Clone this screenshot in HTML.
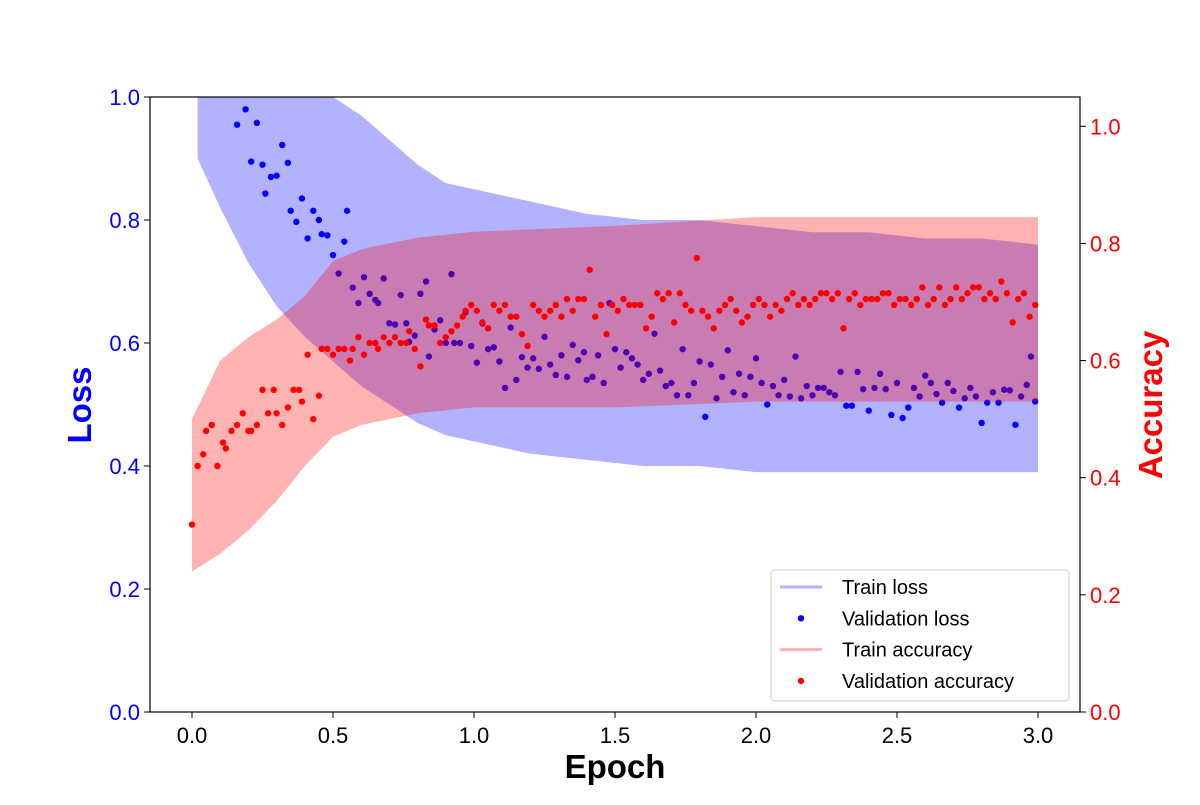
<!DOCTYPE html>
<html><head><meta charset="utf-8"><style>
body{margin:0;background:#fff}
svg text{font-family:"Liberation Sans","DejaVu Sans",sans-serif}
</style></head><body>
<svg id="chart" width="1200" height="800" xmlns="http://www.w3.org/2000/svg"></svg>
<script>
// Train loss envelope
const lossEnvEpoch=[0.02,0.1,0.2,0.3,0.4,0.5,0.6,0.7,0.8,0.9,1.0,1.2,1.4,1.6,1.8,2.0,2.2,2.4,2.6,2.8,3.0];
const lossHi=[1.0,1.0,1.0,1.0,1.0,1.0,0.97,0.93,0.89,0.86,0.85,0.83,0.81,0.80,0.80,0.79,0.78,0.78,0.77,0.77,0.76];
const lossLo=[0.90,0.82,0.73,0.66,0.61,0.57,0.53,0.50,0.47,0.45,0.44,0.42,0.41,0.40,0.40,0.39,0.39,0.39,0.39,0.39,0.39];
// Train accuracy envelope
const accEnvEpoch=[0.0,0.1,0.2,0.3,0.4,0.5,0.6,0.7,0.8,1.0,1.5,2.0,2.5,3.0];
const accHi=[0.50,0.60,0.64,0.67,0.71,0.77,0.79,0.80,0.81,0.82,0.83,0.845,0.845,0.845];
const accLo=[0.24,0.27,0.31,0.36,0.42,0.47,0.49,0.50,0.51,0.52,0.52,0.53,0.53,0.53];
// Validation loss
const valLossEpoch=[0.16,0.19,0.21,0.23,0.25,0.26,0.28,0.30,0.32,0.34,0.35,0.37,0.39,0.41,0.43,0.45,0.46,0.48,0.50,0.52,0.54,0.55,0.57,0.59,0.61,0.63,0.65,0.66,0.68,0.70,0.72,0.74,0.76,0.77,0.79,0.81,0.83,0.84,0.86,0.88,0.90,0.92,0.93,0.95,0.97,0.99,1.01,1.03,1.05,1.07,1.09,1.11,1.13,1.15,1.17,1.19,1.21,1.23,1.25,1.27,1.29,1.31,1.33,1.35,1.37,1.39,1.40,1.42,1.44,1.46,1.48,1.50,1.52,1.54,1.56,1.58,1.60,1.62,1.64,1.66,1.68,1.70,1.72,1.74,1.76,1.78,1.80,1.82,1.84,1.86,1.88,1.90,1.92,1.94,1.96,1.98,2.00,2.02,2.04,2.06,2.08,2.10,2.12,2.14,2.16,2.18,2.20,2.22,2.24,2.26,2.28,2.30,2.32,2.34,2.36,2.38,2.40,2.42,2.44,2.46,2.48,2.50,2.52,2.54,2.56,2.58,2.60,2.62,2.64,2.66,2.68,2.70,2.72,2.74,2.76,2.78,2.80,2.82,2.84,2.86,2.88,2.90,2.92,2.94,2.96,2.975,2.99];
const valLoss=[0.955,0.98,0.895,0.958,0.89,0.843,0.87,0.872,0.922,0.893,0.815,0.797,0.835,0.77,0.815,0.80,0.777,0.775,0.743,0.713,0.765,0.815,0.69,0.665,0.707,0.68,0.67,0.665,0.705,0.632,0.63,0.678,0.632,0.602,0.612,0.68,0.70,0.578,0.622,0.637,0.60,0.712,0.60,0.60,0.65,0.595,0.568,0.632,0.59,0.593,0.57,0.527,0.625,0.54,0.577,0.56,0.575,0.558,0.61,0.565,0.548,0.58,0.545,0.597,0.572,0.585,0.54,0.545,0.58,0.535,0.665,0.59,0.56,0.585,0.575,0.565,0.54,0.55,0.615,0.555,0.53,0.535,0.515,0.59,0.515,0.535,0.57,0.48,0.565,0.51,0.545,0.588,0.52,0.55,0.515,0.545,0.575,0.535,0.50,0.53,0.515,0.54,0.513,0.578,0.51,0.53,0.515,0.527,0.527,0.52,0.515,0.553,0.498,0.498,0.553,0.525,0.49,0.527,0.55,0.525,0.483,0.535,0.478,0.495,0.527,0.513,0.547,0.535,0.517,0.503,0.535,0.522,0.495,0.51,0.527,0.513,0.47,0.503,0.52,0.503,0.524,0.523,0.467,0.513,0.532,0.578,0.505];
// Validation accuracy
const valAccEpoch=[0.0,0.02,0.04,0.05,0.07,0.09,0.11,0.12,0.14,0.16,0.18,0.20,0.21,0.23,0.25,0.27,0.29,0.30,0.32,0.34,0.36,0.38,0.39,0.41,0.43,0.45,0.46,0.48,0.50,0.52,0.54,0.56,0.57,0.59,0.61,0.63,0.65,0.66,0.68,0.70,0.72,0.74,0.76,0.77,0.79,0.81,0.83,0.84,0.86,0.88,0.90,0.92,0.94,0.96,0.97,0.99,1.01,1.03,1.05,1.07,1.09,1.11,1.13,1.15,1.17,1.19,1.21,1.23,1.25,1.27,1.29,1.31,1.33,1.35,1.37,1.39,1.41,1.43,1.45,1.47,1.49,1.51,1.53,1.55,1.57,1.59,1.61,1.63,1.65,1.67,1.69,1.71,1.73,1.75,1.77,1.79,1.81,1.83,1.85,1.87,1.89,1.91,1.93,1.95,1.97,1.99,2.01,2.03,2.05,2.07,2.09,2.11,2.13,2.15,2.17,2.19,2.21,2.23,2.25,2.27,2.29,2.31,2.33,2.35,2.37,2.39,2.41,2.43,2.45,2.47,2.49,2.51,2.53,2.55,2.57,2.59,2.61,2.63,2.65,2.67,2.69,2.71,2.73,2.75,2.77,2.79,2.81,2.83,2.85,2.87,2.89,2.91,2.93,2.95,2.97,2.99];
const valAcc=[0.32,0.42,0.44,0.48,0.49,0.42,0.46,0.45,0.48,0.49,0.51,0.48,0.48,0.49,0.55,0.51,0.55,0.51,0.49,0.52,0.55,0.55,0.53,0.61,0.50,0.54,0.62,0.62,0.61,0.62,0.62,0.60,0.62,0.64,0.61,0.63,0.63,0.62,0.64,0.63,0.64,0.63,0.63,0.65,0.62,0.59,0.67,0.66,0.66,0.63,0.64,0.65,0.66,0.675,0.685,0.695,0.685,0.665,0.655,0.695,0.685,0.695,0.675,0.675,0.645,0.625,0.695,0.685,0.675,0.685,0.695,0.675,0.705,0.685,0.705,0.705,0.755,0.675,0.695,0.645,0.695,0.685,0.705,0.695,0.695,0.695,0.655,0.675,0.715,0.705,0.715,0.665,0.715,0.695,0.685,0.775,0.685,0.675,0.655,0.685,0.695,0.705,0.685,0.665,0.675,0.695,0.705,0.695,0.675,0.695,0.685,0.705,0.715,0.695,0.705,0.695,0.705,0.715,0.715,0.705,0.715,0.655,0.705,0.715,0.695,0.705,0.705,0.705,0.715,0.715,0.695,0.705,0.705,0.695,0.705,0.725,0.695,0.705,0.725,0.695,0.705,0.725,0.705,0.715,0.725,0.725,0.705,0.715,0.705,0.735,0.715,0.665,0.705,0.715,0.675,0.695];
const xTicks=[0.0,0.5,1.0,1.5,2.0,2.5,3.0];
const lossTicks=[0.0,0.2,0.4,0.6,0.8,1.0];
const accTicks=[0.0,0.2,0.4,0.6,0.8,1.0];

const NS="http://www.w3.org/2000/svg";
const svg=document.getElementById('chart');
const L=150,R=1080,T=97,B=712;
const xS=e=>192+e*282;
const yL=v=>B-v*(B-T);
const yA=v=>B-v*(B-T)/1.05;
function mk(tag,attrs,parent){const el=document.createElementNS(NS,tag);for(const k in attrs)el.setAttribute(k,attrs[k]);(parent||svg).appendChild(el);return el;}
function txt(s,attrs){const t=mk('text',attrs);t.textContent=s;return t;}

const defs=mk('defs',{});
const cp=mk('clipPath',{id:'clip'},defs);
mk('rect',{x:L,y:T,width:R-L,height:B-T},cp);
const plot=mk('g',{'clip-path':'url(#clip)'});



function band(ep,hi,lo,ys,color,name){
  let d='';
  ep.forEach((e,i)=>{d+=(i?'L':'M')+xS(e)+','+ys(hi[i]);});
  for(let i=ep.length-1;i>=0;i--)d+='L'+xS(ep[i])+','+ys(lo[i]);
  const p=mk('path',{d:d+'Z',fill:color,'fill-opacity':0.3},plot);
  
  
}
function dots(ep,vals,ys,color,name){
  ep.forEach((e,i)=>{
    const c=mk('circle',{cx:xS(e),cy:ys(vals[i]),r:3.2,fill:color},plot);
    
    
  });
}
band(lossEnvEpoch,lossHi,lossLo,yL,'#0000ff','train-loss-band');
dots(valLossEpoch,valLoss,yL,'#0000ff','validation-loss-point');
band(accEnvEpoch,accHi,accLo,yA,'#ff0000','train-accuracy-band');
dots(valAccEpoch,valAcc,yA,'#ff0000','validation-accuracy-point');

const frame=mk('rect',{x:L,y:T,width:R-L,height:B-T,fill:'none',stroke:'#000','stroke-width':1.2});



xTicks.forEach(v=>{
  mk('line',{x1:xS(v),x2:xS(v),y1:B,y2:B+6,stroke:'#000'});
  const t=txt(v.toFixed(1),{x:xS(v),y:B+31,'font-size':22,'text-anchor':'middle',fill:'#000'});
  
  
});
lossTicks.forEach(v=>{
  mk('line',{x1:L-6,x2:L,y1:yL(v),y2:yL(v),stroke:'#000'});
  const t=txt(v.toFixed(1),{x:L-10,y:yL(v)+8,'font-size':22,'text-anchor':'end',fill:'#0000ff'});
  
  
});
accTicks.forEach(v=>{
  mk('line',{x1:R,x2:R+6,y1:yA(v),y2:yA(v),stroke:'#000'});
  const t=txt(v.toFixed(1),{x:R+10,y:yA(v)+8,'font-size':22,'text-anchor':'start',fill:'#ff0000'});
  
  
});
let t=txt('Epoch',{x:615,y:778,'font-size':33,'font-weight':'bold','text-anchor':'middle',fill:'#000'});


t=txt('Loss',{x:0,y:0,'font-size':33,'font-weight':'bold','text-anchor':'middle',fill:'#0000ff',transform:'translate(91,405) rotate(-90)'});


t=txt('Accuracy',{x:0,y:0,'font-size':33,'font-weight':'bold','text-anchor':'middle',fill:'#ff0000',transform:'translate(1162,405) rotate(-90)'});



// Legend
const lg=mk('g',{});


mk('rect',{x:771,y:570,width:298,height:131,rx:4,fill:'#fff','fill-opacity':0.8,stroke:'#ccc'},lg);
const entries=[['Train loss','line','#0000ff'],['Validation loss','dot','#0000ff'],['Train accuracy','line','#ff0000'],['Validation accuracy','dot','#ff0000']];
entries.forEach((en,i)=>{
  const y=587+i*31.3;
  const g=mk('g',{},lg);
  
  
  if(en[1]==='line')mk('line',{x1:780,x2:822,y1:y,y2:y,stroke:en[2],'stroke-opacity':0.3,'stroke-width':3},g);
  else mk('circle',{cx:801,cy:y,r:3.2,fill:en[2]},g);
  const tt=mk('text',{x:842,y:y+7,'font-size':20,fill:'#000'},g);
  tt.textContent=en[0];
});
</script>
</body></html>
